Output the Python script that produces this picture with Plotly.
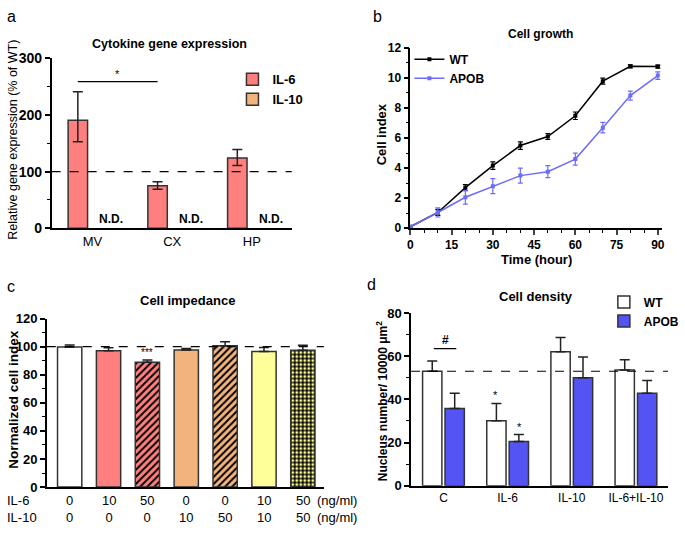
import plotly.graph_objects as go

W, H = 685, 539
FONT = "Liberation Sans, Arial, sans-serif"

def px_x(p):
    return p / W

def px_y(p):
    return 1 - p / H

# ---------------- data ----------------
# panel a
a_cats = ["MV", "CX", "HP"]
a_il6 = [191, 75, 124]
a_il6_err_plus = [50, 7, 15]
a_il6_err_minus = [38, 6, 13]
a_il10_label = ["N.D.", "N.D.", "N.D."]
a_ref = 100

# panel b
b_time = [0, 10, 20, 30, 40, 50, 60, 70, 80, 90]
b_wt = [0.1, 1.05, 2.7, 4.17, 5.5, 6.1, 7.48, 9.78, 10.77, 10.75]
b_wt_err = [0.05, 0.2, 0.2, 0.25, 0.25, 0.2, 0.25, 0.2, 0.1, 0.1]
b_apob = [0.1, 1.05, 2.06, 2.8, 3.5, 3.76, 4.6, 6.69, 8.82, 10.15]
b_apob_err = [0.05, 0.3, 0.45, 0.5, 0.5, 0.4, 0.4, 0.35, 0.3, 0.25]

# panel c
c_il6 = ["0", "10", "50", "0", "0", "10", "50"]
c_il10 = ["0", "0", "0", "10", "50", "10", "50"]
c_vals = [99.7, 97.0, 88.9, 97.6, 100.6, 96.5, 97.4]
c_err = [1.5, 2.2, 1.6, 1.0, 2.8, 2.8, 3.6]
c_ref = 100

# panel d
d_cats = ["C", "IL-6", "IL-10", "IL-6+IL-10"]
d_wt = [53.0, 30.1, 62.0, 53.6]
d_wt_err = [4.8, 8.0, 6.6, 4.7]
d_apob = [35.8, 20.5, 50.0, 42.8]
d_apob_err = [7.0, 3.2, 9.6, 5.9]
d_ref = 53

# ---------------- styles ----------------
PINK = "#FF7F7F"
ORANGE = "#F2B47C"
YELLOW = "#FFFF99"
BLUE_D = "#5454F4"
BLUE_B = "#6C6CFA"
OUTLINE = "#333333"

c_fill = ["white", PINK, PINK, ORANGE, ORANGE, YELLOW, YELLOW]
c_shape = ["", "", "/", "", "/", "", "."]

fig = go.Figure()

# ---------- panel a ----------
a_x = list(range(len(a_cats)))
fig.add_trace(go.Bar(
    x=a_x, y=a_il6, width=0.244, offset=-0.305, name="IL-6",
    marker=dict(color=PINK, line=dict(color=OUTLINE, width=1.5)),
    error_y=dict(type="data", symmetric=False, array=a_il6_err_plus,
                 arrayminus=a_il6_err_minus, color="#222", thickness=1.5, width=5),
    xaxis="x", yaxis="y", legend="legend"))
fig.add_trace(go.Bar(
    x=a_x, y=[None] * len(a_x), width=0.244, offset=0.06, name="IL-10",
    marker=dict(color=ORANGE, line=dict(color=OUTLINE, width=1.5)),
    xaxis="x", yaxis="y", legend="legend"))

# ---------- panel b ----------
fig.add_trace(go.Scatter(
    x=b_time, y=b_wt, name="WT", mode="lines+markers",
    line=dict(color="black", width=1.5),
    marker=dict(symbol="square", size=4, color="black"),
    error_y=dict(type="data", array=b_wt_err, color="black", thickness=1.2, width=2.5),
    xaxis="x2", yaxis="y2", legend="legend2"))
fig.add_trace(go.Scatter(
    x=b_time, y=b_apob, name="APOB", mode="lines+markers",
    line=dict(color=BLUE_B, width=1.5),
    marker=dict(symbol="square", size=4, color=BLUE_B),
    error_y=dict(type="data", array=b_apob_err, color=BLUE_B, thickness=1.2, width=2.5),
    xaxis="x2", yaxis="y2", legend="legend2"))

# ---------- panel c ----------
for i, v in enumerate(c_vals):
    shape = c_shape[i]
    if shape == ".":
        pattern = dict(shape=".", bgcolor="black", fgcolor=YELLOW, fgopacity=1,
                       size=4, solidity=0.45, fillmode="overlay")
    elif shape == "/":
        pattern = dict(shape="/", fgcolor="black", fgopacity=1, size=5,
                       solidity=0.4, fillmode="overlay")
    else:
        pattern = dict(shape="")
    fig.add_trace(go.Bar(
        x=[i], y=[v], width=0.625, showlegend=False,
        marker=dict(color=c_fill[i], line=dict(color=OUTLINE, width=1.5), pattern=pattern),
        error_y=dict(type="data", symmetric=False, array=[c_err[i]], arrayminus=[0],
                     color="#222", thickness=1.5, width=5),
        xaxis="x3", yaxis="y3"))

# ---------- panel d ----------
d_x = list(range(len(d_cats)))
fig.add_trace(go.Bar(
    x=d_x, y=d_wt, name="WT", offsetgroup="wt",
    marker=dict(color="white", line=dict(color=OUTLINE, width=1.5)),
    error_y=dict(type="data", symmetric=False, array=d_wt_err, arrayminus=[0] * 4,
                 color="#222", thickness=1.5, width=5),
    xaxis="x4", yaxis="y4", legend="legend3"))
fig.add_trace(go.Bar(
    x=d_x, y=d_apob, name="APOB", offsetgroup="apob",
    marker=dict(color=BLUE_D, line=dict(color=OUTLINE, width=1.5)),
    error_y=dict(type="data", symmetric=False, array=d_apob_err, arrayminus=[0] * 4,
                 color="#222", thickness=1.5, width=5),
    xaxis="x4", yaxis="y4", legend="legend3"))

# ---------------- axes ----------------
def yax(domain, rng, dtick, minor, anchor, size=13):
    return dict(domain=domain, range=rng, dtick=dtick, tick0=0, anchor=anchor,
                showline=True, linecolor="black", linewidth=1.5, showgrid=False, zeroline=False,
                ticks="outside", ticklen=5, tickwidth=1.5, tickcolor="black",
                minor=dict(dtick=minor, ticks="outside", ticklen=3, tickwidth=1.2, tickcolor="black"),
                tickfont=dict(family=FONT, size=size, color="black", weight="bold"))

layout = dict(
    width=W, height=H, margin=dict(l=0, r=0, t=0, b=0),
    plot_bgcolor="white", paper_bgcolor="white",
    font=dict(family=FONT, color="black"),
    barmode="group", bargap=0.30, bargroupgap=0.14,
    showlegend=True,
)

# panel a axes
layout["xaxis"] = dict(domain=[px_x(50), px_x(297)], range=[-0.512, 2.5], anchor="y",
                       tickvals=a_x, ticktext=a_cats, showline=True, linecolor="black", linewidth=1.5,
                       showgrid=False, zeroline=False, ticks="",
                       tickfont=dict(family=FONT, size=13, color="black"))
layout["yaxis"] = yax([px_y(227), px_y(52)], [0, 300], 100, 50, "x", size=14)

# panel b axes
layout["xaxis2"] = dict(domain=[px_x(419), px_x(678)], range=[0, 91.6], anchor="y2",
                        tick0=0, dtick=15, showline=True, linecolor="black", linewidth=1.5,
                        showgrid=False, zeroline=False, ticks="outside", ticklen=5, tickwidth=1.5,
                        minor=dict(dtick=5, ticks="outside", ticklen=3, tickwidth=1.2, tickcolor="black"),
                        tickfont=dict(family=FONT, size=12, color="black", weight="bold"))
layout["yaxis2"] = yax([px_y(227), px_y(41)], [0, 12], 2, 1, "x2", size=12)

# panel c axes
layout["xaxis3"] = dict(domain=[px_x(45), px_x(330)], range=[-0.59, 6.54], anchor="y3",
                        showline=True, linecolor="black", linewidth=1.5, showgrid=False,
                        zeroline=False, ticks="", showticklabels=False)
layout["yaxis3"] = yax([px_y(493.7), px_y(320)], [0, 120], 20, 10, "x3", size=13)

# panel d axes
layout["xaxis4"] = dict(domain=[px_x(419.7), px_x(684)], range=[-0.505, 3.5], anchor="y4",
                        tickvals=d_x, ticktext=d_cats, showline=True, linecolor="black", linewidth=1.5,
                        showgrid=False, zeroline=False, ticks="",
                        tickfont=dict(family=FONT, size=12, color="black"))
layout["yaxis4"] = yax([px_y(492.3), px_y(314.3)], [0, 80], 20, 10, "x4", size=13)

# legends
leg_common = dict(bgcolor="rgba(0,0,0,0)", xanchor="left", yanchor="top",
                  tracegroupgap=0, itemwidth=30)
layout["legend"] = dict(leg_common, x=px_x(236), y=px_y(58),
                        font=dict(family=FONT, size=13, color="black", weight="bold"))
layout["legend2"] = dict(leg_common, x=px_x(418), y=px_y(38),
                         font=dict(family=FONT, size=12, color="black", weight="bold"))
layout["legend3"] = dict(leg_common, x=px_x(618), y=px_y(288),
                         font=dict(family=FONT, size=12, color="black", weight="bold"))

fig.update_layout(**layout)

# ---------------- shapes ----------------
dash = dict(color="black", width=1.2, dash="dash")
fig.add_shape(type="line", xref="x domain", yref="y", x0=0, x1=1, y0=a_ref, y1=a_ref, line=dash)
fig.add_shape(type="line", xref="x3 domain", yref="y3", x0=0, x1=1, y0=c_ref, y1=c_ref, line=dash)
fig.add_shape(type="line", xref="x4 domain", yref="y4", x0=0, x1=1, y0=d_ref, y1=d_ref, line=dash)
# significance bars
fig.add_shape(type="line", xref="x", yref="y", x0=-0.183, x1=0.817, y0=259, y1=259,
              line=dict(color="black", width=1.2))
fig.add_shape(type="line", xref="x4", yref="y4", x0=-0.15, x1=0.2, y0=63.5, y1=63.5,
              line=dict(color="black", width=1.2))

# ---------------- annotations ----------------
ann = []
def text(x, y, s, size=12, bold=False, xanchor="center", yanchor="middle", angle=0,
         xref="paper", yref="paper", align="center"):
    ann.append(dict(x=x, y=y, xref=xref, yref=yref, text=s, showarrow=False,
                    xanchor=xanchor, yanchor=yanchor, textangle=angle, align=align,
                    font=dict(family=FONT, size=size, color="black", weight="bold" if bold else "normal")))

# panel letters
text(px_x(2), px_y(9), "a", size=16, xanchor="left")
text(px_x(378), px_y(9), "b", size=16, xanchor="left")
text(px_x(2), px_y(287), "c", size=16, xanchor="left")
text(px_x(372), px_y(285), "d", size=16, xanchor="left")

# titles
text(px_x(171), px_y(37), "Cytokine gene expression", size=12.5, bold=True)
text(px_x(553), px_y(27), "Cell growth", size=12, bold=True)
text(px_x(190), px_y(301), "Cell impedance", size=13, bold=True)
text(px_x(548), px_y(297), "Cell density", size=13, bold=True)

# axis titles
text(px_x(10), px_y(136), "Relative gene expression (% of WT)", size=12.5, angle=-90)
text(px_x(389), px_y(130), "Cell index", size=13, bold=True, angle=-90)
text(px_x(549), px_y(259), "Time (hour)", size=13, bold=True)
text(px_x(10), px_y(403), "Normalized cell index", size=13.5, bold=True, angle=-90)
text(px_x(390), px_y(405), "Nucleus number/ 10000 μm<sup>2</sup>", size=12, bold=True, angle=-90)

# N.D. labels
for i, s in enumerate(a_il10_label):
    text(a_x[i] + 0.06, 0, s, size=12, bold=True, xanchor="left", yanchor="bottom",
         xref="x", yref="y")
# significance marks
text(0.317, 259, "*", size=11, xanchor="center", yanchor="bottom", xref="x", yref="y")
text(0.025, 63.5, "#", size=12, bold=True, xanchor="center", yanchor="bottom", xref="x4", yref="y4")
text(2, c_vals[2] + c_err[2], "***", size=10, xanchor="center", yanchor="bottom", xref="x3", yref="y3")
text(-0.19 + 1, d_wt[1] + d_wt_err[1], "*", size=11, xanchor="center", yanchor="bottom", xref="x4", yref="y4")
text(0.19 + 1, d_apob[1] + d_apob_err[1], "*", size=11, xanchor="center", yanchor="bottom", xref="x4", yref="y4")

# panel c dose table (two rows per column)
TY = px_y(516)
text(px_x(2), TY, "IL-6<br>IL-10", size=13, xanchor="left", align="left")
for i in range(len(c_vals)):
    ann.append(dict(x=i, y=TY, xref="x3", yref="paper", text=c_il6[i] + "<br>" + c_il10[i],
                    showarrow=False, xanchor="center", yanchor="middle", align="center",
                    font=dict(family=FONT, size=13, color="black")))
text(px_x(321), TY, "(ng/ml)<br>(ng/ml)", size=13, xanchor="left", align="left")

fig.update_layout(annotations=ann)
fig.write_html("out.html", config={"displayModeBar": False},
               post_script="document.body.style.margin='0';document.body.style.overflow='hidden';")
